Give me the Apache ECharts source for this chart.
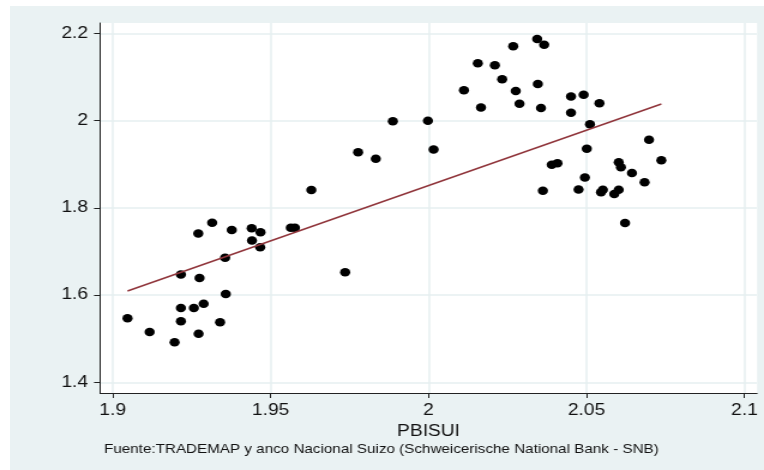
<!DOCTYPE html>
<html>
<head>
<meta charset="utf-8">
<script src="https://cdn.jsdelivr.net/npm/echarts@6/dist/echarts.min.js"></script>
<style>
  html, body { margin: 0; padding: 0; background: #ffffff; }
  #backdrop { position: absolute; left: 10px; top: 6px; right: 0; bottom: 0; background: #eaf2f3; }
  /* the reference is stretched sideways, so the chart is drawn narrower and widened */
  #chart { position: absolute; left: 0; top: 0; width: 637px; height: 470px;
           transform: scaleX(1.19937); transform-origin: 0 0; }
</style>
</head>
<body>
<div id="backdrop"></div>
<div id="chart"></div>
<script>
// PBISUI (x) and the plotted variable (y)
var pbisui = [
  1.9047, 1.9117, 1.9196, 1.9216, 1.9216, 1.9257, 1.9288, 1.9272, 1.9340, 1.9358,
  1.9216, 1.9275, 1.9356, 1.9271, 1.9315, 1.9377, 1.9440, 1.9468, 1.9441, 1.9467,
  1.9564, 1.9577,
  1.9629, 1.9736, 1.9777, 1.9833, 1.9887, 1.9998, 2.0016,
  2.0112, 2.0166, 2.0156, 2.0210, 2.0233, 2.0268, 2.0276, 2.0288, 2.0344, 2.0366,
  2.0346, 2.0356, 2.0451, 2.0491, 2.0541, 2.0451, 2.0511,
  2.0698, 2.0501, 2.0737, 2.0390, 2.0408, 2.0602, 2.0609, 2.0644, 2.0684, 2.0495,
  2.0362, 2.0475, 2.0546, 2.0552, 2.0588, 2.0602, 2.0622
];
var yvals = [
  1.5467, 1.5153, 1.4917, 1.5703, 1.5401, 1.5703, 1.5802, 1.5114, 1.5378, 1.6024,
  1.6471, 1.6391, 1.6854, 1.7411, 1.7658, 1.7491, 1.7530, 1.7441, 1.7250, 1.7095,
  1.7544, 1.7544,
  1.8408, 1.6524, 1.9272, 1.9126, 1.9983, 1.9997, 1.9336,
  2.0693, 2.0299, 2.1315, 2.1266, 2.0946, 2.1704, 2.0677, 2.0386, 2.1869, 2.1739,
  2.0838, 2.0288, 2.0551, 2.0590, 2.0398, 2.0178, 1.9916,
  1.9559, 1.9355, 1.9089, 1.8986, 1.9020, 1.9043, 1.8928, 1.8798, 1.8585, 1.8695,
  1.8392, 1.8419, 1.8358, 1.8413, 1.8316, 1.8413, 1.7652
];

// fitted line end points
var fitX = [1.9047, 2.0737];
var fitY = [1.6093, 2.0379];

// tick labels
var xTicks = [1.9, 1.95, 2, 2.05, 2.1];
var yTicks = [1.4, 1.6, 1.8, 2, 2.2];

var font = 'Liberation Sans, Arial, sans-serif';
var myChart = echarts.init(document.getElementById('chart'));

var points = pbisui.map(function (x, i) { return [x, yvals[i]]; });
var fitLine = fitX.map(function (x, i) { return [x, fitY[i]]; });

var option = {
  animation: false,
  backgroundColor: 'transparent',
  title: {
    text: 'Fuente:TRADEMAP y anco Nacional Suizo (Schweicerische National Bank - SNB)',
    left: 86.7,
    top: 443,
    padding: 0,
    textStyle: { fontFamily: font, fontSize: 12.7, fontWeight: 'normal', color: '#111' }
  },
  grid: {
    left: 83.4,
    top: 23,
    width: 547.8,
    height: 370,
    show: true,
    backgroundColor: '#ffffff',
    borderWidth: 0
  },
  xAxis: {
    type: 'value',
    min: 1.896,
    max: 2.104,
    name: 'PBISUI',
    nameLocation: 'middle',
    nameGap: 27,
    nameTextStyle: { fontFamily: font, fontSize: 16, color: '#111' },
    axisLine: { show: true, onZero: false, lineStyle: { color: '#222', width: 1 } },
    axisTick: { show: true, length: 5, customValues: xTicks, lineStyle: { color: '#222' } },
    axisLabel: { customValues: xTicks, margin: 10, fontFamily: font, fontSize: 16, color: '#111' },
    splitLine: { show: true, lineStyle: { color: '#e6eff1', width: 1.5 } }
  },
  yAxis: {
    type: 'value',
    min: 1.3755,
    max: 2.2236,
    axisLine: { show: true, onZero: false, lineStyle: { color: '#222', width: 1 } },
    axisTick: { show: true, length: 5, customValues: yTicks, lineStyle: { color: '#222' } },
    axisLabel: { customValues: yTicks, margin: 10, fontFamily: font, fontSize: 16, color: '#111' },
    splitLine: { show: true, lineStyle: { color: '#e6eff1', width: 1.5 } }
  },
  series: [
    {
      type: 'scatter',
      data: points,
      symbol: 'circle',
      symbolSize: 8.5,
      itemStyle: { color: '#000000', opacity: 1 }
    },
    {
      type: 'line',
      data: fitLine,
      symbol: 'none',
      lineStyle: { color: '#90353b', width: 1.4 }
    }
  ]
};

myChart.setOption(option);
</script>
</body>
</html>
